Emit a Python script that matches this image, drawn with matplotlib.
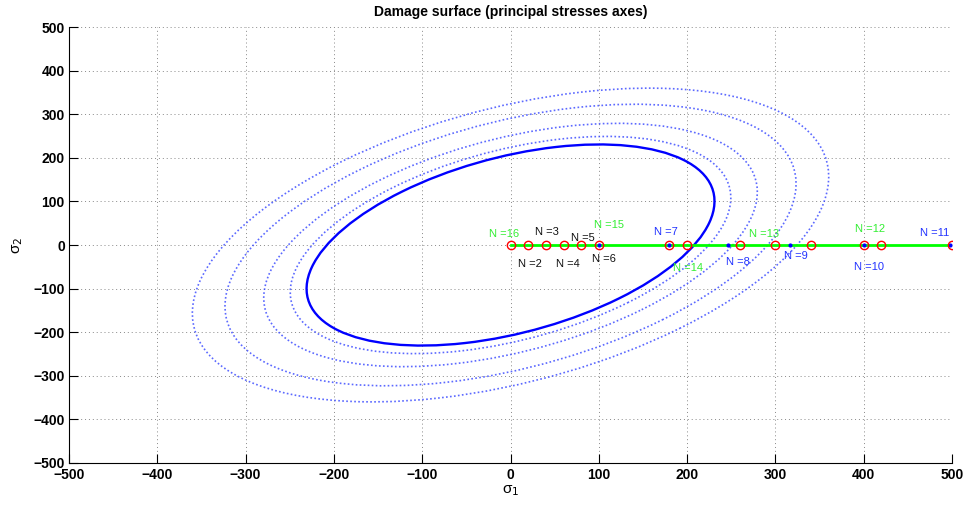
import numpy as np
import matplotlib.pyplot as plt
from matplotlib.patches import Ellipse

plt.rcParams['font.family'] = ['Liberation Sans', 'DejaVu Sans']

# damage surface (rotated ellipse)
surf_a = 276.7      # semi-axis along sigma1 = sigma2
surf_b = 173.6      # semi-axis along sigma1 = -sigma2
surf_angle = 45.0
# scale factors of the dotted (expanded) surfaces
dotted_scales = [1.08, 1.21, 1.40, 1.56]

# loading path on sigma2 = 0
path_x = [0, 500]
path_y = [0, 0]

# red circle points
pts_x = [0, 20, 40, 60, 80, 100, 180, 200, 260, 300, 340, 400, 420, 500]
pts_y = [0] * len(pts_x)

# blue dot points
dots_x = [100, 180, 246, 317, 400, 498]
dots_y = [0] * len(dots_x)

# labels: text, left x, y, color
lab_text = ["N =16", "N =2", "N =3", "N =4", "N =5", "N =6", "N =15", "N =7",
            "N =14", "N =13", "N =8", "N =9", "N =12", "N =10", "N =11"]
lab_x = [-24, 9, 28, 51, 69, 92, 95, 163, 184, 270, 244, 310, 390, 389, 464]
lab_y = [25, -44, 30, -44, 16, -32, 46, 30, -53, 25, -39, -25, 37, -51, 28]
green = '#33ee33'
blue = '#2233ff'
black = '#111111'
lab_col = [green, black, black, black, black, black, green, blue,
           green, green, blue, blue, green, blue, blue]

fig = plt.figure(figsize=(9.64, 5.08), dpi=100)
ax = fig.add_axes([0.0716, 0.0892, 0.916, 0.857])

for k in dotted_scales:
    ax.add_patch(Ellipse((0, 0), 2 * surf_a * k, 2 * surf_b * k, angle=surf_angle,
                         fill=False, edgecolor='#3344ff', linewidth=1.2,
                         linestyle=(0, (1, 1.4)), alpha=0.8))
ax.add_patch(Ellipse((0, 0), 2 * surf_a, 2 * surf_b, angle=surf_angle,
                     fill=False, edgecolor='#0000ff', linewidth=1.7))

ax.plot(path_x, path_y, color='#00ff00', linewidth=2.0, zorder=3)
ax.plot(dots_x, dots_y, '.', color='#0000ff', markersize=4, zorder=4)
ax.plot(pts_x, pts_y, 'o', markerfacecolor='none', markeredgecolor='#ff0000',
        markersize=6, markeredgewidth=1.0, zorder=5)

for t, x, y, c in zip(lab_text, lab_x, lab_y, lab_col):
    ax.text(x, y, t, color=c, fontsize=8, ha='left', va='center', zorder=6)

ticks = np.arange(-500, 501, 100)
ax.set_xlim(-500, 500)
ax.set_ylim(-500, 500)
ax.set_xticks(ticks)
ax.set_yticks(ticks)
ax.set_xticklabels([str(v).replace('-', '\u2212') for v in ticks])
ax.set_yticklabels([str(v).replace('-', '\u2212') for v in ticks])
for lbl in ax.get_xticklabels() + ax.get_yticklabels():
    lbl.set_fontweight('bold')
    lbl.set_fontsize(10)
ax.tick_params(direction='in', length=6.5, width=0.8)
ax.tick_params(axis='x', pad=4)
ax.tick_params(axis='y', pad=3)
ax.spines['top'].set_visible(False)
ax.spines['right'].set_visible(False)
ax.grid(True, color='#888888', linestyle=(0, (1, 3)), linewidth=0.7)
ax.set_axisbelow(True)

ax.set_xlabel('σ$_1$', fontsize=11, labelpad=1)
ax.set_ylabel('σ$_2$', fontsize=11, labelpad=6)
ax.set_title('Damage surface (principal stresses axes)', fontsize=10,
             fontweight='bold', pad=8)

fig.savefig('out.png', dpi=100)
